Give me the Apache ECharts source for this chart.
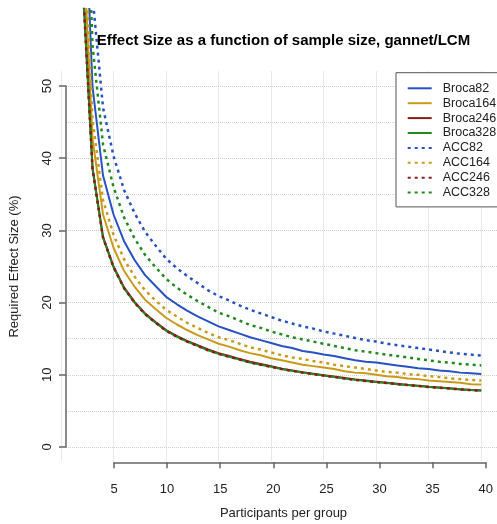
<!DOCTYPE html>
<html>
<head>
<meta charset="utf-8">
<script src="https://cdn.jsdelivr.net/npm/echarts@6/dist/echarts.min.js"></script>
<style>
html, body { margin: 0; padding: 0; background: #fff; }
#chart { width: 497px; height: 524px; }
</style>
</head>
<body>
<div id="chart"></div>
<script>
// participants per group (x)
var participants = [2, 3, 4, 5, 6, 7, 8, 9, 10, 11, 12, 13, 14, 15, 16, 17, 18, 19, 20, 21,
    22, 23, 24, 25, 26, 27, 28, 29, 30, 31, 32, 33, 34, 35, 36, 37, 38, 39, 40];

// required effect size (%)
var broca82 = [85.5, 49.9, 37.6, 32.2, 28.5, 25.9, 23.8, 22.3, 20.8, 19.8, 18.9, 18.1, 17.4, 16.7, 16.2, 15.7, 15.2, 14.8, 14.4, 14.0,
    13.7, 13.3, 13.1, 12.8, 12.6, 12.3, 12.0, 11.8, 11.7, 11.5, 11.3, 11.1, 10.9, 10.8, 10.6, 10.5, 10.3, 10.2, 10.1];
var broca164 = [73.3, 42.7, 32.2, 27.6, 24.4, 22.2, 20.4, 19.1, 17.9, 17.0, 16.2, 15.5, 14.9, 14.3, 13.9, 13.4, 13.0, 12.7, 12.3, 12.0,
    11.7, 11.4, 11.2, 11.0, 10.8, 10.5, 10.3, 10.2, 10.0, 9.8, 9.7, 9.5, 9.4, 9.2, 9.1, 9.0, 8.9, 8.7, 8.65];
var broca246 = [66.3, 38.7, 29.1, 25.0, 22.1, 20.1, 18.5, 17.3, 16.2, 15.4, 14.7, 14.1, 13.5, 13.0, 12.6, 12.2, 11.8, 11.5, 11.2, 10.85,
    10.6, 10.35, 10.15, 9.95, 9.75, 9.55, 9.35, 9.2, 9.05, 8.9, 8.75, 8.6, 8.5, 8.35, 8.25, 8.15, 8.0, 7.9, 7.85];
var broca328 = [66.0, 38.5, 29.0, 24.9, 22.0, 20.0, 18.4, 17.2, 16.1, 15.3, 14.6, 14.0, 13.4, 12.9, 12.5, 12.1, 11.7, 11.4, 11.1, 10.8,
    10.55, 10.3, 10.1, 9.9, 9.7, 9.5, 9.3, 9.15, 9.0, 8.85, 8.7, 8.57, 8.44, 8.32, 8.2, 8.09, 7.98, 7.88, 7.8];
var acc82 = [106.9, 62.4, 47.0, 40.3, 35.6, 32.4, 29.8, 27.9, 26.1, 24.8, 23.7, 22.7, 21.7, 20.9, 20.3, 19.6, 19.0, 18.5, 18.0, 17.5,
    17.1, 16.7, 16.4, 16.0, 15.7, 15.4, 15.1, 14.8, 14.6, 14.3, 14.1, 13.9, 13.7, 13.5, 13.3, 13.1, 12.9, 12.8, 12.65];
var acc164 = [77.9, 45.4, 34.2, 29.4, 26.0, 23.6, 21.7, 20.3, 19.0, 18.1, 17.2, 16.5, 15.8, 15.2, 14.8, 14.3, 13.8, 13.5, 13.1, 12.7,
    12.4, 12.2, 11.9, 11.7, 11.4, 11.2, 11.0, 10.8, 10.6, 10.4, 10.3, 10.1, 10.0, 9.8, 9.7, 9.5, 9.4, 9.3, 9.2];
var acc246 = [66.0, 38.5, 29.0, 24.9, 22.0, 20.0, 18.4, 17.2, 16.1, 15.3, 14.6, 14.0, 13.4, 12.9, 12.5, 12.1, 11.7, 11.4, 11.1, 10.8,
    10.55, 10.3, 10.1, 9.9, 9.7, 9.5, 9.3, 9.15, 9.0, 8.85, 8.7, 8.57, 8.44, 8.32, 8.2, 8.09, 7.98, 7.88, 7.8];
var acc328 = [95.4, 55.6, 41.9, 36.0, 31.8, 28.9, 26.6, 24.9, 23.3, 22.1, 21.1, 20.2, 19.4, 18.6, 18.1, 17.5, 16.9, 16.5, 16.0, 15.6,
    15.2, 14.9, 14.6, 14.3, 14.0, 13.7, 13.4, 13.2, 13.0, 12.8, 12.6, 12.4, 12.2, 12.0, 11.8, 11.7, 11.5, 11.4, 11.3];

var seriesNames = ["Broca82", "Broca164", "Broca246", "Broca328", "ACC82", "ACC164", "ACC246", "ACC328"];
var seriesValues = [broca82, broca164, broca246, broca328, acc82, acc164, acc246, acc328];
var seriesColors = ["#2852c4", "#c99a1a", "#8b1a1a", "#1f8a1f", "#2852c4", "#c99a1a", "#8b1a1a", "#1f8a1f"];
var seriesDotted = [false, false, false, false, true, true, true, true];

var font = "Liberation Sans, Arial, Helvetica, sans-serif";
var axisColor = "#666";
var gridColor = "#d0d0d0";

function pairs(values) {
    return participants.map(function (n, i) { return [n, values[i]]; });
}

var chart = echarts.init(document.getElementById("chart"));

var series = seriesNames.map(function (name, i) {
    return {
        name: name,
        type: "line",
        xAxisIndex: 0,
        yAxisIndex: 0,
        data: pairs(seriesValues[i]),
        symbol: "none",
        showSymbol: false,
        animation: false,
        clip: true,
        color: seriesColors[i],
        lineStyle: {
            color: seriesColors[i],
            width: seriesDotted[i] ? 2.5 : 2,
            type: seriesDotted[i] ? [3, 4] : "solid",
            cap: "butt"
        }
    };
});

var hidden = {show: false};

var option = {
    animation: false,
    backgroundColor: "#fff",
    textStyle: {fontFamily: font},
    title: [{
        text: "Effect Size as a function of sample size, gannet/LCM",
        left: 283.5,
        top: 33,
        padding: 0,
        textAlign: "center",
        textStyle: {fontSize: 15, fontWeight: "bold", color: "#000", fontFamily: font}
    }, {
        text: "Participants per group",
        left: 283.5,
        top: 507,
        padding: 0,
        textAlign: "center",
        textStyle: {fontSize: 13, fontWeight: "normal", color: "#222", fontFamily: font}
    }],
    legend: {
        data: seriesNames,
        orient: "vertical",
        left: 396,
        top: 72.7,
        padding: [8.6, 30, 7.3, 10.7],
        itemWidth: 24,
        itemHeight: 14,
        itemGap: 0.9,
        itemStyle: {opacity: 0},
        backgroundColor: "#fff",
        borderColor: "#555",
        borderWidth: 1,
        borderRadius: 0,
        textStyle: {fontSize: 12.5, lineHeight: 14, color: "#222", fontFamily: font, padding: [0, 0, 0, 6]}
    },
    grid: [
        // data area (lines run up to the top edge)
        {left: 61, top: 9, width: 440.7, height: 452.44},
        // vertical dotted grid
        {left: 61, top: 71.56, width: 440.7, height: 389.88},
        // horizontal dotted grid + y axis
        {left: 66, top: 86, width: 435, height: 361},
        // x axis
        {left: 114, top: 86, width: 371.7, height: 376.3}
    ],
    xAxis: [
        {gridIndex: 0, type: "value", min: 0, max: 41.5, show: false},
        {gridIndex: 1, type: "value", min: 0, max: 41.5, interval: 5,
            axisLine: hidden, axisTick: hidden, axisLabel: hidden,
            splitLine: {show: true, lineStyle: {color: gridColor, type: "dotted", width: 1}}},
        {gridIndex: 2, type: "value", min: 0, max: 40, show: false},
        {gridIndex: 3, type: "value", min: 5, max: 40, interval: 5, position: "bottom",
            axisLine: {show: true, lineStyle: {color: axisColor, width: 1.5}},
            axisTick: {show: true, length: 6, lineStyle: {color: axisColor, width: 1.5}},
            axisLabel: {show: true, margin: 21, fontSize: 13, color: "#222", fontFamily: font},
            splitLine: hidden}
    ],
    yAxis: [
        {gridIndex: 0, type: "value", min: -2, max: 60.66, show: false},
        {gridIndex: 1, type: "value", min: -2, max: 52, show: false},
        {gridIndex: 2, type: "value", min: 0, max: 50, interval: 5,
            axisLine: hidden, axisTick: hidden, axisLabel: hidden,
            splitLine: {show: true, lineStyle: {color: gridColor, type: "dotted", width: 1}}},
        {gridIndex: 2, type: "value", min: 0, max: 50, interval: 10, position: "left",
            name: "Required Effect Size (%)",
            nameLocation: "middle",
            nameGap: 45,
            nameTextStyle: {fontSize: 13, color: "#222", fontFamily: font},
            axisLine: {show: true, lineStyle: {color: axisColor, width: 1.5}},
            axisTick: {show: true, length: 7, lineStyle: {color: axisColor, width: 1.5}},
            axisLabel: {show: true, rotate: 90, margin: 12, fontSize: 13, color: "#222", fontFamily: font},
            splitLine: hidden},
        {gridIndex: 3, type: "value", min: 0, max: 50, show: false}
    ],
    series: series
};

chart.setOption(option);
</script>
</body>
</html>
